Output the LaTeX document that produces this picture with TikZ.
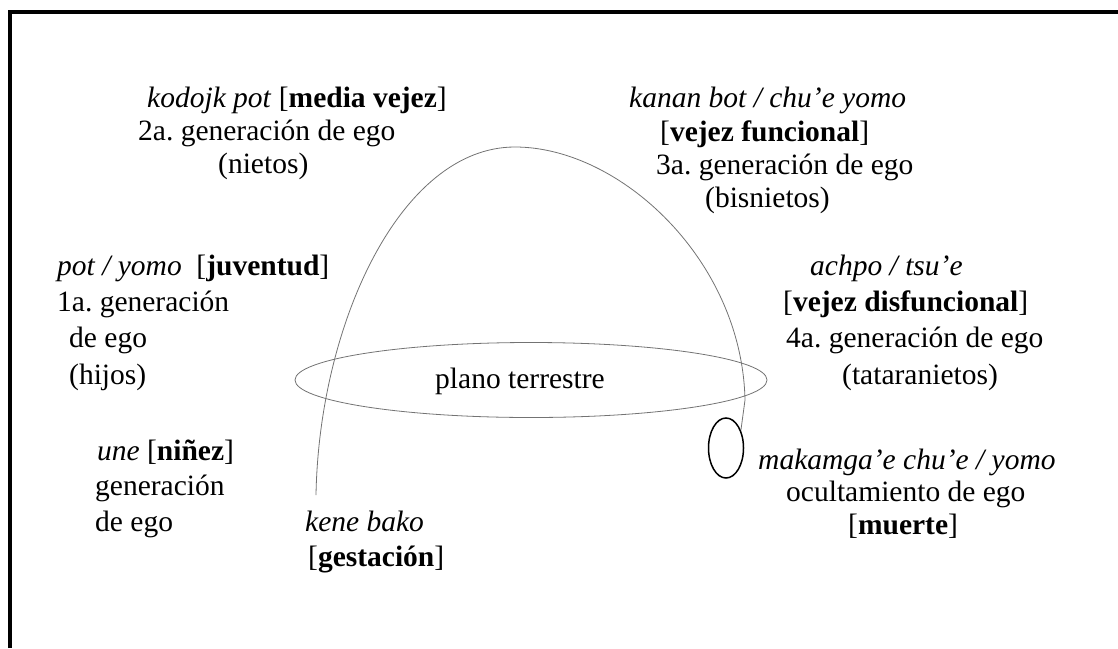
\documentclass[tikz,border=0pt]{standalone}
\usepackage{fontspec}
\setmainfont{Liberation Serif}
\usetikzlibrary{shapes.geometric}
\frenchspacing
\begin{document}
\begin{tikzpicture}[x=1pt,y=-1pt,
  lbl/.style={anchor=base west, inner sep=0pt, font=\fontsize{29.5}{34}\selectfont},
  thinline/.style={draw=black!55, line width=0.8pt},
  frame/.style={draw=black, line width=3.5pt}]
\useasboundingbox (0,0) rectangle (1118,648);
% frame (left and top edges only)
\draw[frame] (10,648) -- (10,12) -- (1118,12);

% top-left block
\node[lbl] (a1) at (147,107) {\textit{kodojk pot} [\textbf{media vejez}]};
\node[lbl] (a2) at (138,140) {2a. generación de ego};
\node[lbl] (a3) at (218,173) {(nietos)};

% top-right block
\node[lbl] (b1) at (629,107) {\textit{kanan bot / chu’e yomo}};
\node[lbl] (b2) at (660,141) {[\textbf{vejez funcional}]};
\node[lbl] (b3) at (656,174) {3a. generación de ego};
\node[lbl] (b4) at (705,207) {(bisnietos)};

% middle-left block
\node[lbl] (c1) at (57,275) {\textit{pot / yomo}\ \ [\textbf{juventud}]};
\node[lbl] (c2) at (57,311) {1a. generación};
\node[lbl] (c3) at (69,347) {de ego};
\node[lbl] (c4) at (69,384) {(hijos)};

% middle-right block
\node[lbl] (d1) at (810,275) {\textit{achpo / tsu’e}};
\node[lbl] (d2) at (783,311) {[\textbf{vejez disfuncional}]};
\node[lbl] (d3) at (786,347) {4a. generación de ego};
\node[lbl] (d4) at (842,384) {(tataranietos)};

% plane
\node[draw=black!55, line width=0.8pt, ellipse, minimum width=472pt, minimum height=75pt, inner sep=0pt] (plane) at (531,380) {};
\node[lbl, anchor=base] (pt) at (520,388) {plano terrestre};

% bottom-left block
\node[lbl] (e1) at (97,460) {\textit{une} [\textbf{niñez}]};
\node[lbl] (e2) at (95,495) {generación};
\node[lbl] (e3) at (95,531) {de ego};

% gestation
\node[lbl] (f1) at (305,531) {\textit{kene bako}};
\node[lbl] (f2) at (308,566) {[\textbf{gestación}]};

% death
\node[draw=black, line width=1.5pt, ellipse, minimum width=35pt, minimum height=60pt, inner sep=0pt] (tomb) at (726,448) {};
\node[lbl] (g1) at (758,469) {\textit{makamga’e chu’e / yomo}};
\node[lbl] (g2) at (786,501) {ocultamiento de ego};
\node[lbl] (g3) at (848,534) {[\textbf{muerte}]};

% life arc
\coordinate (foot) at (316,495);
\coordinate (top) at (515,147);
\coordinate (rside) at (745,400);
\draw[thinline] (foot) .. controls (319,325) and (400,147) .. (top)
  .. controls (620,147) and (742,260) .. (rside) -- (tomb.50);
\end{tikzpicture}
\end{document}
